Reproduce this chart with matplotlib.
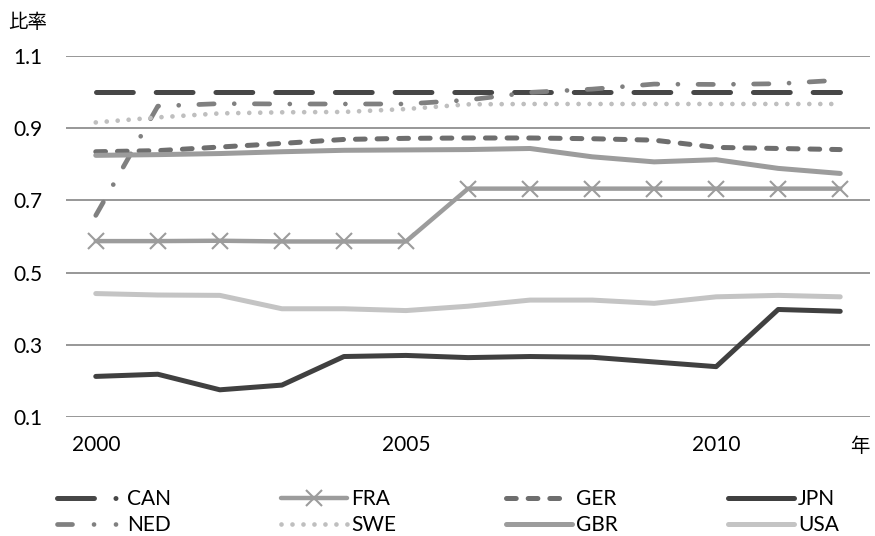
import matplotlib
matplotlib.use("Agg")
import matplotlib.pyplot as plt
from matplotlib.lines import Line2D

plt.rcParams['font.family'] = ['Lato', 'Noto Sans CJK JP', 'DejaVu Sans']
plt.rcParams['lines.scale_dashes'] = False

years = list(range(2000, 2013))
tick_years = [2000, 2005, 2010]

CAN = [1.0, 1.0, 1.0, 1.0, 1.0, 1.0, 1.0, 1.0, 1.0, 1.0, 1.0, 1.0, 1.0]
FRA = [0.587, 0.587, 0.588, 0.586, 0.586, 0.586, 0.732, 0.732, 0.732, 0.732, 0.732, 0.732, 0.732]
GER = [0.834, 0.837, 0.847, 0.857, 0.868, 0.871, 0.872, 0.872, 0.870, 0.866, 0.846, 0.843, 0.840]
JPN = [0.213, 0.219, 0.176, 0.189, 0.268, 0.271, 0.265, 0.268, 0.266, 0.253, 0.240, 0.398, 0.393]
NED = [0.658, 0.960, 0.967, 0.966, 0.966, 0.966, 0.977, 0.998, 1.007, 1.021, 1.020, 1.022, 1.032]
SWE = [0.915, 0.929, 0.940, 0.943, 0.944, 0.952, 0.965, 0.966, 0.966, 0.966, 0.966, 0.966, 0.966]
GBR = [0.824, 0.826, 0.829, 0.834, 0.838, 0.839, 0.840, 0.843, 0.820, 0.806, 0.812, 0.788, 0.774]
USA = [0.442, 0.438, 0.437, 0.400, 0.400, 0.395, 0.407, 0.424, 0.424, 0.415, 0.433, 0.437, 0.433]

W, H = 875, 536
fig = plt.figure(figsize=(W / 100, H / 100), dpi=100)
left, right, top, bottom = 66, 870, 55.5, 417.3
ax = fig.add_axes([left / W, 1 - bottom / H, (right - left) / W, (bottom - top) / H])

x = list(range(len(years)))
common = dict(solid_capstyle='round', dash_capstyle='round', solid_joinstyle='round')

ax.plot(x, CAN, color='#474747', lw=3.6, dashes=(26.5, 16.5), **common)
ax.plot(x, FRA, color='#9c9c9c', lw=3.2, marker='x', markersize=11, mew=1.5, **common)
ax.plot(x, GER, color='#6e6e6e', lw=3.6, dashes=(7.0, 8.6), **common)
ax.plot(x, JPN, color='#404040', lw=3.6, **common)
ax.plot(x, NED, color='#808080', lw=3.4, dashes=(11.0, 14.5, 0.01, 14.5), **common)
ax.plot(x, SWE, color='#bfbfbf', lw=3.4, dashes=(0.01, 7.9), **common)
ax.plot(x, GBR, color='#9c9c9c', lw=3.6, **common)
ax.plot(x, USA, color='#c4c4c4', lw=3.6, **common)

ax.set_xlim(-0.48, 12.48)
ax.set_ylim(0.1, 1.1)
ax.set_yticks([0.1, 0.3, 0.5, 0.7, 0.9, 1.1])
ax.set_yticklabels(['0.1', '0.3', '0.5', '0.7', '0.9', '1.1'])
ax.set_xticks([years.index(y) for y in tick_years])
ax.set_xticklabels([str(y) for y in tick_years])
ax.tick_params(axis='y', length=0, pad=17, labelsize=15)
ax.tick_params(axis='x', length=0, pad=13, labelsize=15)
ax.grid(axis='y', color='#979797', lw=1.4)
ax.set_axisbelow(True)
for s in ax.spines.values():
    s.set_visible(False)

fig.text(8 / W, 1 - 22 / H, '比率', fontsize=14, ha='left', va='center')
fig.text(860 / W, 1 - 446 / H, '年', fontsize=14, ha='center', va='center')

def proxy(color, lw, dashes=None, marker=None):
    kw = dict(color=color, lw=lw, solid_capstyle='round', dash_capstyle='round')
    if dashes is not None:
        kw['dashes'] = dashes
    if marker:
        kw.update(marker=marker, markersize=11, mew=1.5)
    return Line2D([], [], **kw)

h = {
    'CAN': proxy('#474747', 3.6, (26.6, 15.5, 0.01, 40.0)),
    'FRA': proxy('#9c9c9c', 3.2, None, 'x'),
    'GER': proxy('#6e6e6e', 3.6, (7.0, 8.6, 7.0, 8.6, 7.0, 40.0)),
    'JPN': proxy('#404040', 3.6),
    'NED': proxy('#808080', 3.4, (10.8, 15.5, 0.01, 15.8, 0.01, 40.0)),
    'SWE': proxy('#bfbfbf', 3.4, (0.01, 7.9)),
    'GBR': proxy('#9c9c9c', 3.6),
    'USA': proxy('#c4c4c4', 3.6),
}
order = ['CAN', 'NED', 'FRA', 'SWE', 'GER', 'GBR', 'JPN', 'USA']
fig.legend([h[k] for k in order], order, ncol=4, loc='center left',
           bbox_to_anchor=(57 / W, 1 - 512 / H), frameon=False, fontsize=15,
           handlelength=3.15, handletextpad=0.2, columnspacing=5.3,
           labelspacing=0.3, borderaxespad=0, borderpad=0)

fig.savefig('out.png', dpi=100)
